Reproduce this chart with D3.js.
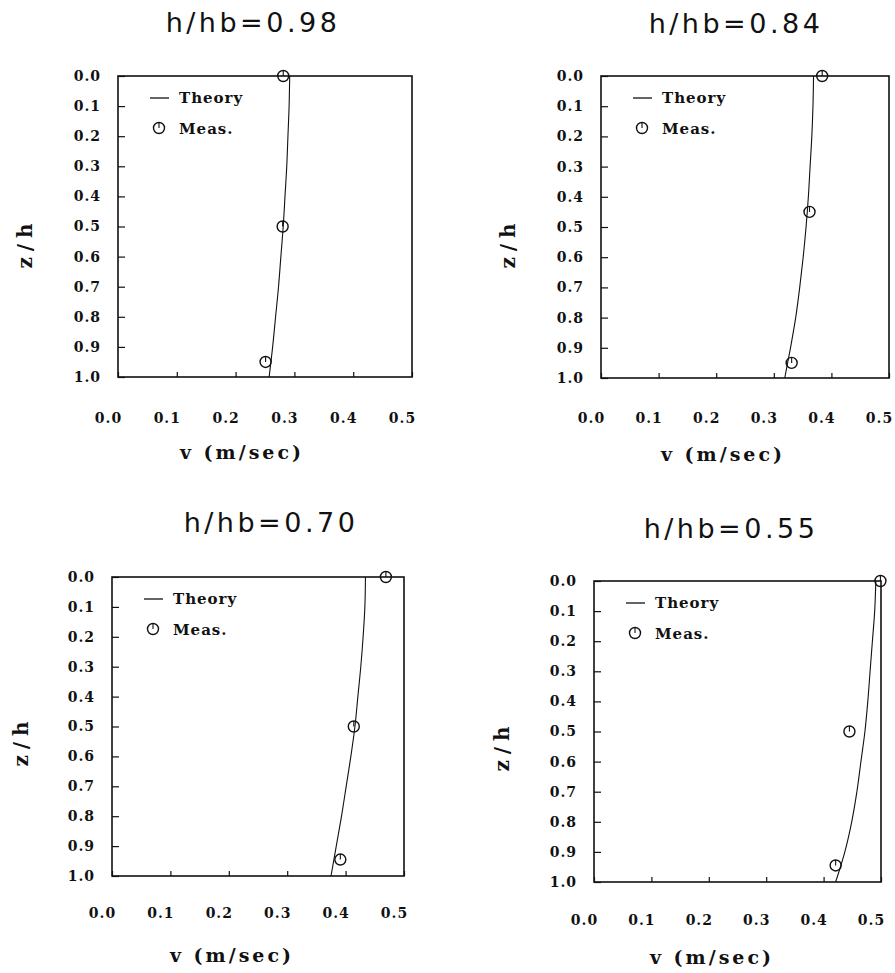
<!DOCTYPE html>
<html>
<head>
<meta charset="utf-8">
<script src="https://cdn.jsdelivr.net/npm/d3@7"></script>
<style>
  body { margin: 0; background: #fff; }
  svg { display: block; }
  .tick text { font-family: "DejaVu Serif", serif; font-weight: bold; font-size: 14px; letter-spacing: 1px; fill: #111; }
  .title { font-family: "DejaVu Sans", sans-serif; font-size: 27px; letter-spacing: 3.5px; fill: #111; }
  .axlab { font-family: "DejaVu Serif", serif; font-weight: bold; font-size: 19px; fill: #111; }
  .leg { font-family: "DejaVu Serif", serif; font-weight: bold; font-size: 15px; letter-spacing: 1px; fill: #111; }
</style>
</head>
<body>
<script>
// data
var titles = ["h/hb=0.98", "h/hb=0.84", "h/hb=0.70", "h/hb=0.55"];
var xTicks = [0, 0.1, 0.2, 0.3, 0.4, 0.5];
var yTicks = [0, 0.1, 0.2, 0.3, 0.4, 0.5, 0.6, 0.7, 0.8, 0.9, 1.0];

// theory curves, v (m/sec) at z/h = 0, 0.1, ... 1.0
var zGrid = [0, 0.1, 0.2, 0.3, 0.4, 0.5, 0.6, 0.7, 0.8, 0.9, 1.0];
var theory98 = [0.292, 0.291, 0.289, 0.287, 0.284, 0.281, 0.277, 0.273, 0.268, 0.263, 0.257];
var theory84 = [0.369, 0.368, 0.366, 0.363, 0.360, 0.356, 0.351, 0.345, 0.338, 0.329, 0.319];
var theory70 = [0.434, 0.433, 0.430, 0.426, 0.421, 0.416, 0.409, 0.401, 0.393, 0.384, 0.375];
var theory55 = [0.491, 0.489, 0.485, 0.481, 0.477, 0.472, 0.465, 0.458, 0.449, 0.437, 0.421];

// measurements
var measZ98 = [0, 0.5, 0.95], measV98 = [0.281, 0.280, 0.251];
var measZ84 = [0, 0.45, 0.95], measV84 = [0.384, 0.362, 0.331];
var measZ70 = [0, 0.50, 0.945], measV70 = [0.469, 0.414, 0.391];
var measZ55 = [0, 0.50, 0.945], measV55 = [0.499, 0.445, 0.421];

var theories = [theory98, theory84, theory70, theory55];
var measZ = [measZ98, measZ84, measZ70, measZ55];
var measV = [measV98, measV84, measV70, measV55];

// where each panel sits on the page
var layout = [
  {left: 118, top: 76,  w: 294, h: 301, tx: 253, ty: 32,  xpad: 36, lx: 242, ly: 459, zx: 25,  zy: 243},
  {left: 601, top: 76,  w: 288, h: 302, tx: 736, ty: 33,  xpad: 35, lx: 723, ly: 461, zx: 508, zy: 243},
  {left: 112, top: 577, w: 292, h: 299, tx: 271, ty: 532, xpad: 32, lx: 232, ly: 962, zx: 21,  zy: 741},
  {left: 594, top: 581, w: 287, h: 301, tx: 731, ty: 538, xpad: 33, lx: 712, ly: 964, zx: 502, zy: 746}
];

var svg = d3.select("body").append("svg")
  .attr("width", 895)
  .attr("height", 973);

function marker(g, cx, cy) {
  g.append("circle").attr("cx", cx).attr("cy", cy).attr("r", 5.5)
    .attr("fill", "none").attr("stroke", "#111").attr("stroke-width", 1.4);
  g.append("line").attr("x1", cx).attr("x2", cx).attr("y1", cy - 5.5).attr("y2", cy)
    .attr("stroke", "#111").attr("stroke-width", 1.1);
}

layout.forEach(function(p, i) {
  var x = d3.scaleLinear().domain([0, 0.5]).range([0, p.w]);
  var y = d3.scaleLinear().domain([0, 1]).range([0, p.h]);

  svg.append("text").attr("class", "title")
    .attr("x", p.tx).attr("y", p.ty).attr("text-anchor", "middle")
    .text(titles[i]);

  var g = svg.append("g").attr("transform", "translate(" + p.left + "," + p.top + ")");

  var yAxis = g.append("g")
    .call(d3.axisLeft(y).tickValues(yTicks).tickFormat(d3.format(".1f"))
      .tickSizeInner(-7).tickSizeOuter(0).tickPadding(17));
  yAxis.select(".domain").remove();
  yAxis.selectAll(".tick line").attr("stroke", "#111").attr("stroke-width", 1.2);

  var xAxis = g.append("g").attr("transform", "translate(0," + p.h + ")")
    .call(d3.axisBottom(x).tickValues(xTicks).tickFormat(d3.format(".1f"))
      .tickSizeInner(-5).tickSizeOuter(0).tickPadding(p.xpad));
  xAxis.select(".domain").remove();
  xAxis.selectAll(".tick line").attr("stroke", "#111").attr("stroke-width", 1.2);
  xAxis.selectAll(".tick text").attr("dx", -10);

  g.append("rect").attr("width", p.w).attr("height", p.h)
    .attr("fill", "none").attr("stroke", "#111").attr("stroke-width", 1.6);

  var line = d3.line()
    .x(function(d) { return x(d[0]); })
    .y(function(d) { return y(d[1]); })
    .curve(d3.curveMonotoneY);
  g.append("path")
    .datum(theories[i].map(function(v, k) { return [v, zGrid[k]]; }))
    .attr("d", line)
    .attr("fill", "none").attr("stroke", "#111").attr("stroke-width", 1.1);

  measV[i].forEach(function(v, k) { marker(g, x(v), y(measZ[i][k])); });

  // legend
  g.append("line").attr("x1", 32).attr("x2", 51).attr("y1", 22).attr("y2", 22)
    .attr("stroke", "#111").attr("stroke-width", 1.3);
  g.append("text").attr("class", "leg").attr("x", 61).attr("y", 27).text("Theory");
  marker(g, 41, 52);
  g.append("text").attr("class", "leg").attr("x", 61).attr("y", 58).text("Meas.");

  svg.append("text").attr("class", "axlab")
    .attr("x", p.lx).attr("y", p.ly).attr("text-anchor", "middle")
    .style("letter-spacing", "3px")
    .text("v (m/sec)");
  svg.append("text").attr("class", "axlab")
    .attr("transform", "translate(" + p.zx + "," + p.zy + ") rotate(-90)")
    .attr("text-anchor", "middle").attr("dy", "0.35em")
    .style("font-size", "20px")
    .style("letter-spacing", "6px")
    .text("z/h");
});
</script>
</body>
</html>
